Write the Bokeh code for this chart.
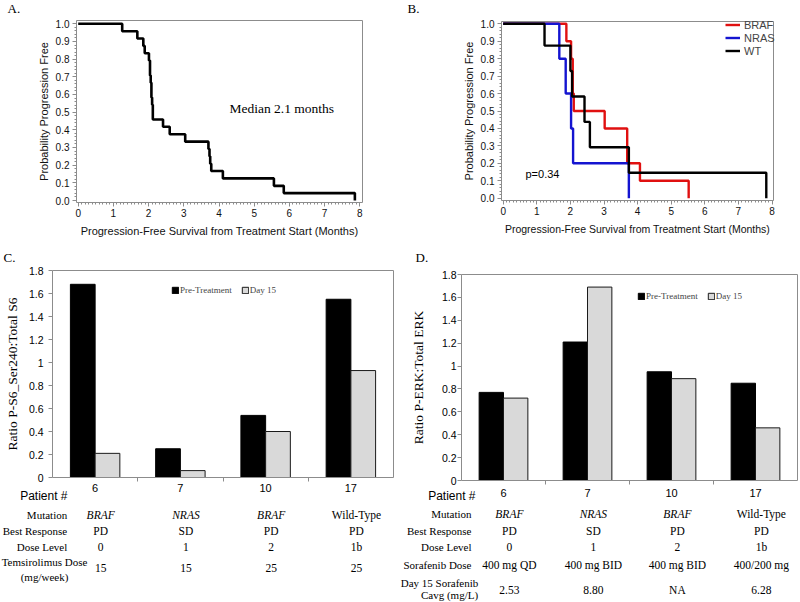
import numpy as np
from bokeh.plotting import figure
from bokeh.models import (Range1d, Legend, LegendItem, SingleIntervalTicker,
                          FixedTicker, NumeralTickFormatter, LinearAxis)
from bokeh.core.properties import value
from bokeh.layouts import row, column
from bokeh.embed import file_html
from bokeh.resources import INLINE

# ---------------- data ----------------
# Panel A: all patients, Kaplan-Meier (time in months, survival probability)
km_all_t = [0, 1.25, 1.68, 1.85, 1.89, 2.01, 2.04, 2.06, 2.08, 2.10, 2.12,
            2.41, 2.60, 3.04, 3.70, 3.73, 3.75, 3.78, 4.11, 5.56, 5.84, 7.86]
km_all_s = [1.0, 0.958, 0.917, 0.875, 0.833, 0.792, 0.708, 0.667, 0.583, 0.542, 0.458,
            0.417, 0.375, 0.333, 0.292, 0.25, 0.208, 0.167, 0.125, 0.083, 0.042, 0.0]

# Panel B: by mutation
braf_t = [0, 1.88, 2.02, 2.07, 2.10, 3.02, 3.69, 4.07, 5.52]
braf_s = [1.0, 0.9, 0.8, 0.6, 0.5, 0.4, 0.2, 0.1, 0.0]
nras_t = [0, 1.67, 1.86, 2.02, 2.08, 3.74]
nras_s = [1.0, 0.8, 0.6, 0.4, 0.2, 0.0]
wt_t = [0, 1.23, 2.00, 2.05, 2.42, 2.58, 3.74, 7.83]
wt_s = [1.0, 0.875, 0.729, 0.583, 0.4375, 0.292, 0.146, 0.0]
p_value_text = "p=0.34"
median_text = "Median 2.1 months"

# Panels C / D
patients = ["6", "7", "10", "17"]
s6_pre = [1.68, 0.25, 0.54, 1.55]
s6_day15 = [0.21, 0.06, 0.40, 0.93]
erk_pre = [0.77, 1.21, 0.95, 0.85]
erk_day15 = [0.72, 1.69, 0.89, 0.46]
mutation = ["BRAF", "NRAS", "BRAF", "Wild-Type"]
best_response = ["PD", "SD", "PD", "PD"]
dose_level = ["0", "1", "2", "1b"]
temsirolimus_dose = ["15", "15", "25", "25"]
sorafenib_dose = ["400 mg QD", "400 mg BID", "400 mg BID", "400/200 mg"]
sorafenib_cavg = ["2.53", "8.80", "NA", "6.28"]

# ---------------- style ----------------
GRAY = "#8c8c8c"
SANS = "Liberation Sans"
SERIF = "Liberation Serif"


def make_panel(w, h, ox, oy, frame, xz, xppu, yz, yppu):
    """Figure whose plotting area is the whole canvas; the visible box and
    its axes are drawn with fixed-location axes at the box edges."""
    L, R, T, B = frame
    xr = Range1d((ox - xz) / xppu, (ox + w - xz) / xppu)
    yr = Range1d((yz - (oy + h)) / yppu, (yz - oy) / yppu)
    p = figure(width=w, height=h, x_range=xr, y_range=yr,
               output_backend="svg", toolbar_location=None,
               x_axis_location=None, y_axis_location=None, min_border=0)
    p.outline_line_color = None
    p.grid.visible = False
    p.background_fill_color = "white"
    p.border_fill_color = "white"
    xl, xh = (L - xz) / xppu, (R - xz) / xppu
    yl, yh = (yz - B) / yppu, (yz - T) / yppu
    ax_b = LinearAxis(fixed_location=yl, bounds=(xl, xh))
    ax_l = LinearAxis(fixed_location=xl, bounds=(yl, yh))
    ax_t = LinearAxis(fixed_location=yh, bounds=(xl, xh), ticker=FixedTicker(ticks=[]))
    ax_r = LinearAxis(fixed_location=xh, bounds=(yl, yh), ticker=FixedTicker(ticks=[]))
    for ax in (ax_b, ax_l, ax_t, ax_r):
        ax.axis_line_color = GRAY
        ax.major_tick_line_color = GRAY
        ax.minor_tick_line_color = GRAY
        ax.major_tick_in = 0
        ax.minor_tick_in = 0
        ax.axis_label_text_font_style = "normal"
        ax.major_label_text_color = "#111111"
        ax.axis_label_text_color = "#111111"
    ax_t.minor_tick_line_color = None
    ax_r.minor_tick_line_color = None
    p.add_layout(ax_b, "below")
    p.add_layout(ax_l, "left")
    p.add_layout(ax_t, "above")
    p.add_layout(ax_r, "right")

    def X(ref):
        return (ref - xz) / xppu

    def Y(ref):
        return (yz - ref) / yppu

    return p, ax_b, ax_l, X, Y


def put_text(p, xs, ys, texts, font=SERIF, size="11px", align="center", style="normal",
             color="black"):
    p.text(x=list(xs), y=list(ys), text=list(texts), text_font=value(font),
           text_font_size=value(size), text_align=align, text_baseline="middle",
           text_font_style=style, text_color=color)


def style_km(ax_b, ax_l, xlabel_size):
    ax_b.ticker = SingleIntervalTicker(interval=1, num_minor_ticks=10)
    ax_l.ticker = SingleIntervalTicker(interval=0.1, num_minor_ticks=5)
    ax_l.formatter = NumeralTickFormatter(format="0.0")
    for ax in (ax_b, ax_l):
        ax.major_tick_out = 4
        ax.minor_tick_out = 2
        ax.major_label_text_font = SANS
        ax.major_label_text_font_size = "10px"
        ax.axis_label_text_font = SANS
    ax_l.axis_label = "Probability Progression Free"
    ax_l.axis_label_text_font_size = "11px"
    ax_l.major_label_standoff = 3
    ax_l.axis_label_standoff = 3
    ax_b.axis_label = "Progression-Free Survival from Treatment Start (Months)"
    ax_b.axis_label_text_font_size = xlabel_size
    ax_b.major_label_standoff = 2
    ax_b.axis_label_standoff = 5


# ---------------- Panel A ----------------
pA, axAb, axAl, XA, YA = make_panel(400, 245, 0, 0, (76, 361.7, 20, 202.3),
                                    77.7, 35.2, 200, 176.7)
style_km(axAb, axAl, "11px")
pA.step(km_all_t, km_all_s, mode="after", line_color="black", line_width=2.6)
put_text(pA, [XA(229)], [YA(108)], [median_text], SERIF, "13.5px", align="left")
put_text(pA, [XA(7)], [YA(8)], ["A."], SERIF, "13px", align="left")

# ---------------- Panel B ----------------
pB, axBb, axBl, XB, YB = make_panel(400, 245, 400, 0, (501, 772.7, 20.7, 200),
                                    502.7, 33.6, 197.7, 174.4)
style_km(axBb, axBl, "10.5px")
r_braf = pB.step(braf_t, braf_s, mode="after", line_color="#e01010", line_width=2.4)
r_nras = pB.step(nras_t, nras_s, mode="after", line_color="#1414d0", line_width=2.4)
r_wt = pB.step(wt_t, wt_s, mode="after", line_color="black", line_width=2.4)
legB = Legend(items=[LegendItem(label="BRAF", renderers=[r_braf]),
                     LegendItem(label="NRAS", renderers=[r_nras]),
                     LegendItem(label="WT", renderers=[r_wt])],
              location=(325, 188), orientation="vertical",
              glyph_width=15, glyph_height=13, label_height=13, label_standoff=4,
              spacing=0, padding=0, margin=0,
              label_text_font=SANS, label_text_font_size="11px",
              border_line_alpha=0, background_fill_alpha=0)
pB.add_layout(legB)
put_text(pB, [XB(525)], [YB(173)], [p_value_text], SANS, "11px", align="left")
put_text(pB, [XB(407)], [YB(8)], ["B."], SERIF, "13px", align="left")


# ---------------- Panels C / D ----------------
def bar_panel(w, ox, frame, pre, d15, ylabel, tick_standoff, lab_standoff,
              title_standoff, legend_loc):
    L, R, T, B = frame
    n = len(patients)
    cat_w = (R - L) / n
    y_ppu = (B - T) / 1.8
    p, ax_b, ax_l, X, Y = make_panel(w, 357, ox, 245, frame, L, cat_w, B, y_ppu)
    xs = np.arange(n) + 0.5
    bw = 0.29
    r_pre = p.vbar(x=xs - bw / 2, top=pre, width=bw, fill_color="black", line_color="black")
    r_d15 = p.vbar(x=xs + bw / 2, top=d15, width=bw, fill_color="#d9d9d9",
                   line_color="#1a1a1a", line_width=1)
    ax_b.ticker = FixedTicker(ticks=[float(v) for v in xs],
                              minor_ticks=[float(v) for v in np.arange(1, n)])
    ax_b.major_label_overrides = {float(v): lab for v, lab in zip(xs, patients)}
    ax_b.major_tick_out = 0
    ax_b.major_tick_line_color = None
    ax_b.minor_tick_out = 4
    ax_b.major_label_standoff = lab_standoff
    ax_b.major_label_text_font = SANS
    ax_b.major_label_text_font_size = "11px"
    ax_b.major_label_text_color = "black"
    ax_l.ticker = FixedTicker(ticks=[round(0.2 * i, 1) for i in range(10)])
    ax_l.formatter = NumeralTickFormatter(format="0.[0]")
    ax_l.major_tick_out = 4
    ax_l.minor_tick_line_color = None
    ax_l.major_label_standoff = tick_standoff
    ax_l.major_label_text_font = SANS
    ax_l.major_label_text_font_size = "10.5px"
    ax_l.major_label_text_color = "black"
    ax_l.axis_label = ylabel
    ax_l.axis_label_text_font = SERIF
    ax_l.axis_label_text_font_size = "13.5px"
    ax_l.axis_label_standoff = title_standoff
    ax_l.axis_label_text_color = "black"
    leg = Legend(items=[LegendItem(label="Pre-Treatment", renderers=[r_pre]),
                        LegendItem(label="Day 15", renderers=[r_d15])],
                 location=legend_loc, orientation="horizontal",
                 glyph_width=8, glyph_height=8, label_height=10, label_standoff=1,
                 spacing=9, padding=0, margin=0,
                 label_text_font=SERIF, label_text_font_size="9px",
                 border_line_alpha=0, background_fill_alpha=0)
    p.add_layout(leg)
    return p, xs, X, Y


# Panel C
pC, xsC, XC, YC = bar_panel(396, 0, (52, 393, 270, 477), s6_pre, s6_day15,
                            "Ratio P-S6_Ser240:Total S6", 5, 2, 6, (171, 307))
put_text(pC, [XC(3)], [YC(257)], ["C."], SERIF, "13px", align="left")
put_text(pC, [XC(67)], [YC(495)], ["Patient #"], SANS, "12px", align="right")
shC = 0.065
rowsC = [("Mutation", mutation, 514), ("Best Response", best_response, 530.7),
         ("Dose Level", dose_level, 546.7)]
for name, vals, yref in rowsC:
    put_text(pC, [XC(66.7)], [YC(yref)], [name], SERIF, "11px", align="right")
    for x, v in zip(xsC, vals):
        st = "italic" if (name == "Mutation" and v != "Wild-Type") else "normal"
        put_text(pC, [x + shC], [YC(yref)], [v], SERIF, "11.5px", style=st)
put_text(pC, [XC(44)], [YC(561.7)], ["Temsirolimus Dose"], SERIF, "11px")
put_text(pC, [XC(44)], [YC(576)], ["(mg/week)"], SERIF, "11px")
put_text(pC, xsC + shC, [YC(567)] * len(xsC), temsirolimus_dose, SERIF, "11.5px")

# Panel D
pD, xsD, XD, YD = bar_panel(404, 396, (461, 797, 274, 480), erk_pre, erk_day15,
                            "Ratio P-ERK:Total ERK", 1, 4, 13, (241, 301))
put_text(pD, [XD(415)], [YD(257)], ["D."], SERIF, "13px", align="left")
put_text(pD, [XD(475)], [YD(495)], ["Patient #"], SANS, "12px", align="right")
shD = 0.07
rowsD = [("Mutation", mutation, 513.3), ("Best Response", best_response, 530),
         ("Dose Level", dose_level, 546.7), ("Sorafenib Dose", sorafenib_dose, 564)]
for name, vals, yref in rowsD:
    put_text(pD, [XD(471)], [YD(yref)], [name], SERIF, "11px", align="right")
    for x, v in zip(xsD, vals):
        st = "italic" if (name == "Mutation" and v != "Wild-Type") else "normal"
        put_text(pD, [x + shD], [YD(yref)], [v], SERIF, "11.5px", style=st)
put_text(pD, [XD(439)], [YD(582.5)], ["Day 15 Sorafenib"], SERIF, "11px")
put_text(pD, [XD(449)], [YD(594.5)], ["Cavg (mg/L)"], SERIF, "11px")
put_text(pD, xsD + shD, [YD(589)] * len(xsD), sorafenib_cavg, SERIF, "11.5px")

layout = column(row(pA, pB, spacing=0), row(pC, pD, spacing=0), spacing=0)

with open("out.html", "w") as f:
    f.write(file_html(layout, INLINE))
